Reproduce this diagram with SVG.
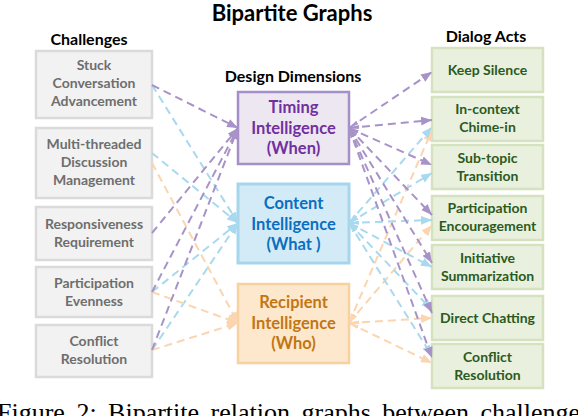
<svg xmlns="http://www.w3.org/2000/svg" width="578" height="416" viewBox="0 0 578 416">
<style>
text{font-family:Lato,"Open Sans","DejaVu Sans",sans-serif;font-weight:700;text-anchor:middle}
.h{font-size:16px;fill:#000}
.title{font-size:22px;fill:#000}
.ch rect{fill:#f2f2f2;stroke:#dadada;stroke-width:2.5}
.ch text{font-size:14px;fill:#6e6e6e}
.da rect{fill:#e9f0de;stroke:#d5e2bf;stroke-width:2.5}
.da text{font-size:14px;fill:#2b5a1e}
.dd text{font-size:16.5px}
#timing rect{fill:#ede7f1;stroke:#a48fc6;stroke-width:2.5}
#timing text{fill:#7030a0}
#content rect{fill:#d2ebf7;stroke:#a6d6ee;stroke-width:3}
#content text{fill:#0a6fc0}
#recipient rect{fill:#fde8cd;stroke:#f8d29e;stroke-width:2.5}
#recipient text{fill:#c27612}
.c line{stroke-width:2;stroke-dasharray:8 5;fill:none}
.p{stroke:#a893c8}
.b{stroke:#a9d9ee}
.o{stroke:#fbd5b0}
.cap{font-family:"Liberation Serif","Times New Roman",serif;font-weight:400;font-size:26px;fill:#000;text-anchor:start;word-spacing:5px}
</style>
<defs>
<marker id="ap" viewBox="0 0 10 8" refX="10" refY="4" markerWidth="11" markerHeight="9" markerUnits="userSpaceOnUse" orient="auto"><path d="M0,0 L10,4 L0,8 z" fill="#a893c8"/></marker>
<marker id="ab" viewBox="0 0 10 8" refX="10" refY="4" markerWidth="11" markerHeight="9" markerUnits="userSpaceOnUse" orient="auto"><path d="M0,0 L10,4 L0,8 z" fill="#a9d9ee"/></marker>
<marker id="ao" viewBox="0 0 10 8" refX="10" refY="4" markerWidth="11" markerHeight="9" markerUnits="userSpaceOnUse" orient="auto"><path d="M0,0 L10,4 L0,8 z" fill="#fbd5b0"/></marker>
<marker id="sp" viewBox="0 0 10 4" refX="10" refY="2" markerWidth="10" markerHeight="4" markerUnits="userSpaceOnUse" orient="auto-start-reverse"><path d="M0,0 L10,2 L0,4 z" fill="#a893c8"/></marker>
<marker id="sb" viewBox="0 0 10 4" refX="10" refY="2" markerWidth="10" markerHeight="4" markerUnits="userSpaceOnUse" orient="auto-start-reverse"><path d="M0,0 L10,2 L0,4 z" fill="#a9d9ee"/></marker>
<marker id="so" viewBox="0 0 10 4" refX="10" refY="2" markerWidth="10" markerHeight="4" markerUnits="userSpaceOnUse" orient="auto-start-reverse"><path d="M0,0 L10,2 L0,4 z" fill="#fbd5b0"/></marker>
</defs>
<rect width="578" height="416" fill="#fff"/>
<text class="title" x="292" y="21">Bipartite Graphs</text>
<text class="h" x="89" y="45">Challenges</text>
<text class="h" x="293" y="82">Design Dimensions</text>
<text class="h" x="486" y="42">Dialog Acts</text>

<g id="ch1" class="ch"><rect x="36" y="51" width="116" height="67"/><text x="94" y="70">Stuck</text><text x="94" y="88">Conversation</text><text x="94" y="106">Advancement</text></g>
<g id="ch2" class="ch"><rect x="36" y="128" width="116" height="70"/><text x="94" y="149">Multi-threaded</text><text x="94" y="167">Discussion</text><text x="94" y="185">Management</text></g>
<g id="ch3" class="ch"><rect x="36" y="207" width="116" height="53"/><text x="94" y="229">Responsiveness</text><text x="94" y="247">Requirement</text></g>
<g id="ch4" class="ch"><rect x="36" y="267" width="116" height="50"/><text x="94" y="288">Participation</text><text x="94" y="306">Evenness</text></g>
<g id="ch5" class="ch"><rect x="36" y="325" width="116" height="52"/><text x="94" y="346">Conflict</text><text x="94" y="364">Resolution</text></g>

<g id="timing" class="dd"><rect x="238" y="92" width="111" height="72"/><text x="293.5" y="113">Timing</text><text x="293.5" y="133.5">Intelligence</text><text x="293.5" y="154">(When)</text></g>
<g id="content" class="dd"><rect x="238" y="184" width="111" height="79"/><text x="293.5" y="209">Content</text><text x="293.5" y="229.5">Intelligence</text><text x="293.5" y="250">(What )</text></g>
<g id="recipient" class="dd"><rect x="238" y="284" width="111" height="79"/><text x="293.5" y="308">Recipient</text><text x="293.5" y="328.5">Intelligence</text><text x="293.5" y="349">(Who)</text></g>

<g id="da1" class="da"><rect x="432" y="48" width="111" height="44"/><text x="487.5" y="75">Keep Silence</text></g>
<g id="da2" class="da"><rect x="432" y="97" width="111" height="44"/><text x="487.5" y="114">In-context</text><text x="487.5" y="132">Chime-in</text></g>
<g id="da3" class="da"><rect x="432" y="145" width="111" height="44"/><text x="487.5" y="163">Sub-topic</text><text x="487.5" y="181">Transition</text></g>
<g id="da4" class="da"><rect x="432" y="196" width="111" height="44"/><text x="487.5" y="213">Participation</text><text x="487.5" y="231">Encouragement</text></g>
<g id="da5" class="da"><rect x="432" y="245" width="111" height="44"/><text x="487.5" y="263">Initiative</text><text x="487.5" y="281">Summarization</text></g>
<g id="da6" class="da"><rect x="432" y="296" width="111" height="44"/><text x="487.5" y="323">Direct Chatting</text></g>
<g id="da7" class="da"><rect x="432" y="344" width="111" height="44"/><text x="487.5" y="362">Conflict</text><text x="487.5" y="380">Resolution</text></g>

<g id="connectors" class="c">
<line class="b" x1="152" y1="85" x2="238" y2="223" marker-end="url(#ab)"/>
<line class="b" x1="152" y1="153" x2="238" y2="223" marker-end="url(#ab)"/>
<line class="b" x1="152" y1="292" x2="238" y2="223" marker-end="url(#ab)"/>
<line class="b" x1="152" y1="350" x2="238" y2="223" marker-end="url(#ab)"/>
<line class="o" x1="152" y1="163" x2="238" y2="323" marker-end="url(#ao)"/>
<line class="o" x1="152" y1="292" x2="238" y2="323" marker-end="url(#ao)"/>
<line class="o" x1="152" y1="350" x2="238" y2="323" marker-end="url(#ao)"/>
<line class="p" x1="152" y1="85" x2="238" y2="128" marker-end="url(#ap)"/>
<line class="p" x1="152" y1="233" x2="238" y2="128" marker-end="url(#ap)"/>
<line class="p" x1="152" y1="292" x2="238" y2="128" marker-end="url(#ap)"/>
<line class="p" x1="152" y1="350" x2="238" y2="128" marker-end="url(#ap)"/>

<line class="o" x1="349" y1="323" x2="432" y2="130" marker-start="url(#so)" marker-end="url(#ao)"/>
<line class="o" x1="349" y1="323" x2="432" y2="225" marker-start="url(#so)" marker-end="url(#ao)"/>
<line class="o" x1="349" y1="323" x2="432" y2="318" marker-start="url(#so)" marker-end="url(#ao)"/>
<line class="o" x1="349" y1="323" x2="432" y2="363" marker-start="url(#so)" marker-end="url(#ao)"/>
<line class="b" x1="349" y1="223" x2="432" y2="127" marker-start="url(#sb)" marker-end="url(#ab)"/>
<line class="b" x1="349" y1="223" x2="432" y2="173" marker-start="url(#sb)" marker-end="url(#ab)"/>
<line class="b" x1="349" y1="223" x2="432" y2="220" marker-start="url(#sb)" marker-end="url(#ab)"/>
<line class="b" x1="349" y1="223" x2="432" y2="267" marker-start="url(#sb)" marker-end="url(#ab)"/>
<line class="b" x1="349" y1="223" x2="432" y2="310" marker-start="url(#sb)" marker-end="url(#ab)"/>
<line class="b" x1="349" y1="223" x2="432" y2="356" marker-start="url(#sb)" marker-end="url(#ab)"/>
<line class="p" x1="349" y1="128" x2="432" y2="72" marker-start="url(#sp)" marker-end="url(#ap)"/>
<line class="p" x1="349" y1="128" x2="432" y2="120" marker-start="url(#sp)" marker-end="url(#ap)"/>
<line class="p" x1="349" y1="128" x2="432" y2="165" marker-start="url(#sp)" marker-end="url(#ap)"/>
<line class="p" x1="349" y1="128" x2="432" y2="215" marker-start="url(#sp)" marker-end="url(#ap)"/>
<line class="p" x1="349" y1="128" x2="432" y2="263" marker-start="url(#sp)" marker-end="url(#ap)"/>
<line class="p" x1="349" y1="128" x2="432" y2="313" marker-start="url(#sp)" marker-end="url(#ap)"/>
<line class="p" x1="349" y1="128" x2="432" y2="358" marker-start="url(#sp)" marker-end="url(#ap)"/>
</g>

<text class="cap" x="-3" y="421">Figure 2: Bipartite relation graphs between challenge</text>
</svg>
